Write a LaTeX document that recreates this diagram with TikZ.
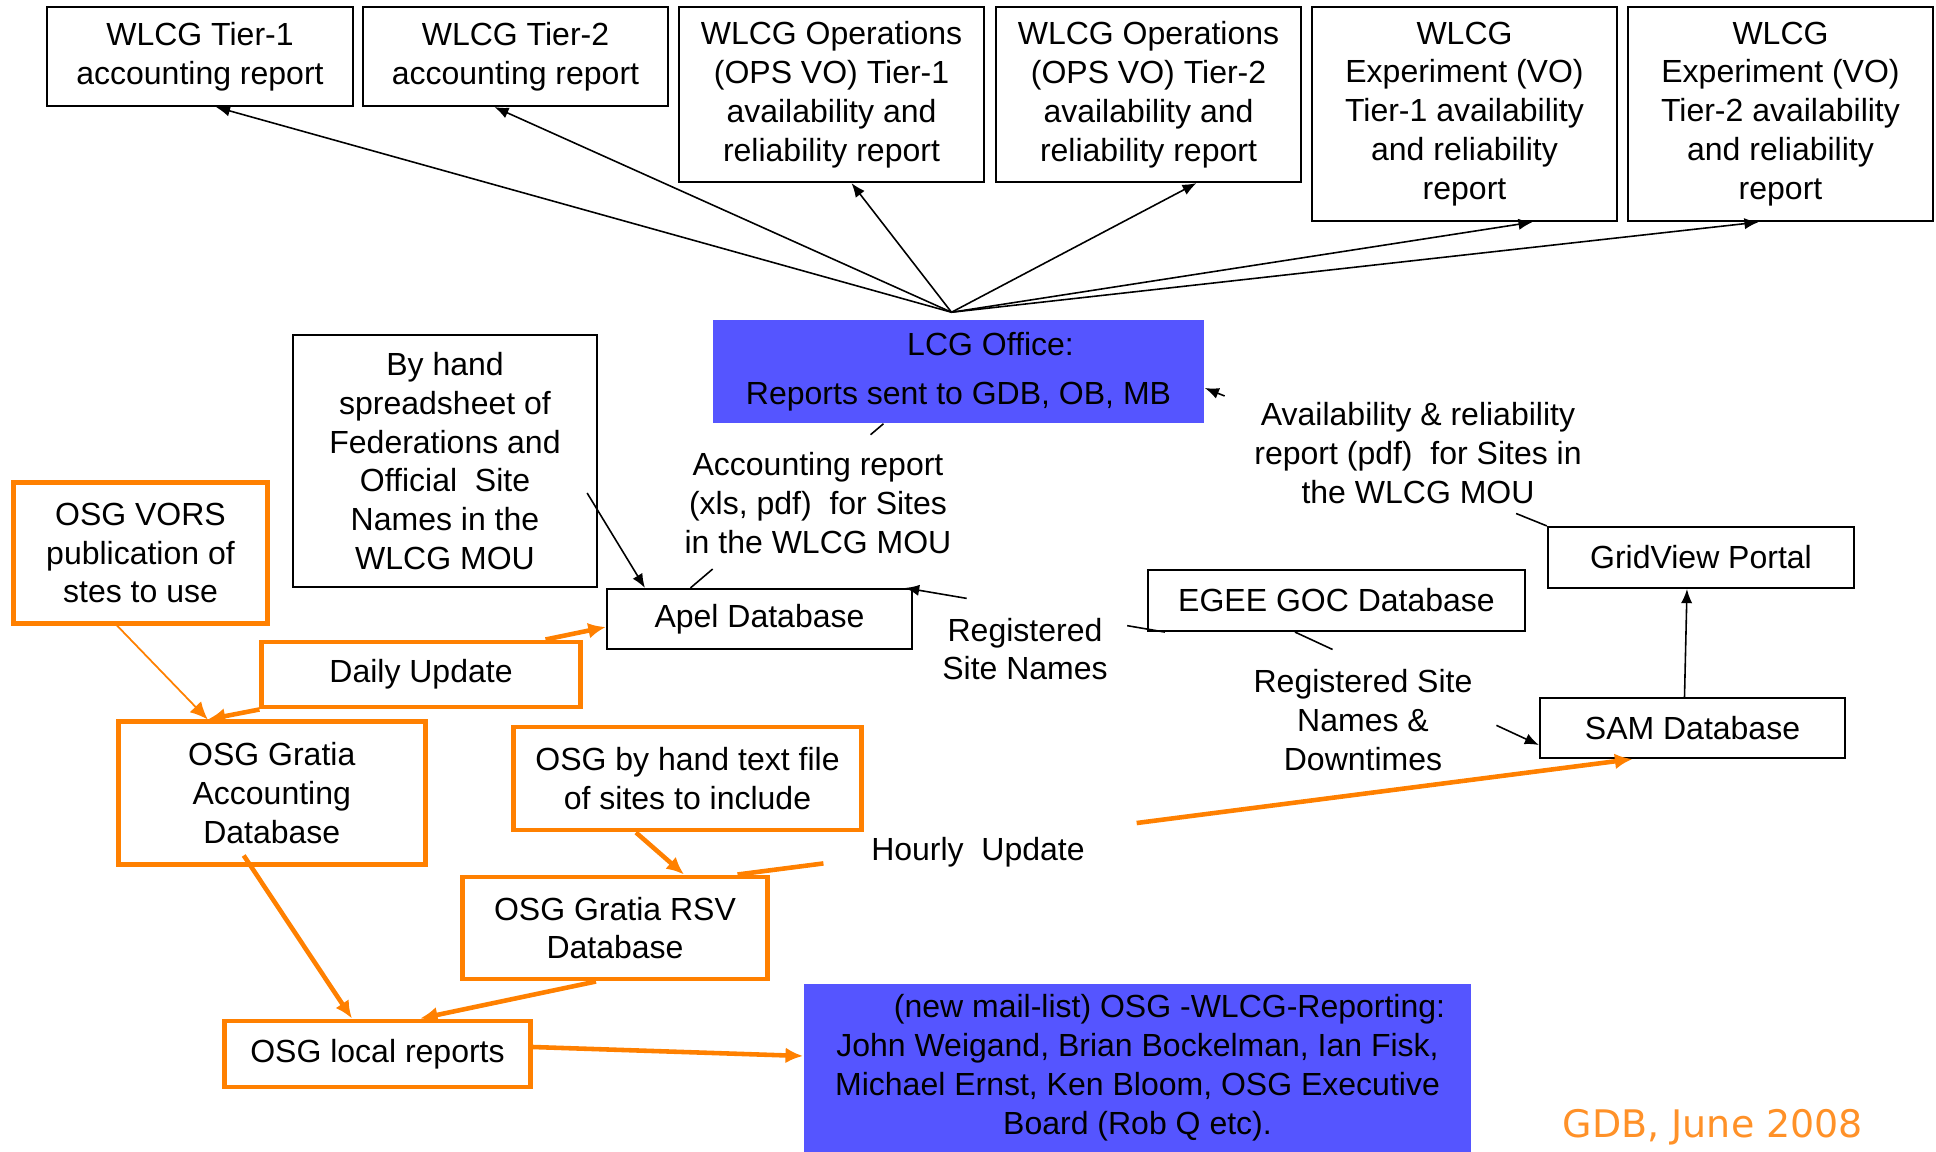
\documentclass[tikz,border=0pt]{standalone}
\usepackage{fontspec}
\setmainfont{Liberation Sans}
\newfontfamily\gdbfont{DejaVu Sans}
\usetikzlibrary{arrows.meta,positioning,calc}
\definecolor{officeblue}{RGB}{85,85,255}
\definecolor{osgorange}{RGB}{255,128,0}
\definecolor{gdborange}{RGB}{255,145,40}

\begin{document}
\begin{tikzpicture}[x=0.01cm,y=-0.01cm,
  every node/.style={font=\fontsize{9.1pt}{11.05pt}\selectfont,align=center,inner sep=0pt},
  wlcgbox/.style={draw,line width=0.6pt},
  osgbox/.style={draw=osgorange,line width=1.4pt},
  bluebox/.style={fill=officeblue},
  link/.style={line width=0.45pt},
  flow/.style={link,-{Latex[length=4pt,width=3.2pt]}},
  osglink/.style={draw=osgorange,line width=1.3pt},
  osgflow/.style={osglink,-{Latex[length=5pt,width=4.5pt]}},
  tag/.style={inner sep=0.08cm}]
\useasboundingbox (0,0) rectangle (1936,1152);

% WLCG reports along the top
\node[wlcgbox,minimum width=3.05cm,minimum height=0.99cm] (tierone) at (200,56.5) {WLCG Tier-1\\accounting report};
\node[wlcgbox,minimum width=3.05cm,minimum height=0.99cm] (tiertwo) at (515.5,56.5) {WLCG Tier-2\\accounting report};
\node[wlcgbox,minimum width=3.05cm,minimum height=1.75cm] (opsone) at (831.5,94.5) {WLCG Operations\\(OPS VO) Tier-1\\availability and\\reliability report};
\node[wlcgbox,minimum width=3.05cm,minimum height=1.75cm] (opstwo) at (1148.5,94.5) {WLCG Operations\\(OPS VO) Tier-2\\availability and\\reliability report};
\node[wlcgbox,minimum width=3.05cm,minimum height=2.14cm] (expone) at (1464.5,114) {WLCG\\Experiment (VO)\\Tier-1 availability\\and reliability\\report};
\node[wlcgbox,minimum width=3.05cm,minimum height=2.14cm] (exptwo) at (1780.5,114) {WLCG\\Experiment (VO)\\Tier-2 availability\\and reliability\\report};

% LCG office and the databases feeding it
\node[bluebox,minimum width=4.91cm,minimum height=1.03cm] (office) at (958.5,371.5) {\hspace*{2em}LCG Office:\\[3pt]Reports sent to GDB, OB, MB};
\node[wlcgbox,minimum width=3.04cm,minimum height=2.52cm] (byhand) at (445,461) {By hand\\spreadsheet of\\Federations and\\Official\ \ Site\\Names in the\\WLCG MOU};
\node[wlcgbox,minimum width=3.05cm,minimum height=0.60cm] (apel) at (759.5,619) {Apel Database};
\node[wlcgbox,minimum width=3.77cm,minimum height=0.61cm] (egee) at (1336.5,600.5) {EGEE GOC Database};
\node[wlcgbox,minimum width=3.06cm,minimum height=0.61cm] (gridview) at (1701,557.5) {GridView Portal};
\node[wlcgbox,minimum width=3.05cm,minimum height=0.60cm] (sam) at (1692.5,728) {SAM Database};

% OSG side
\node[osgbox,minimum width=2.53cm,minimum height=1.40cm] (vors) at (140.5,553) {OSG VORS\\publication of\\stes to use};
\node[osgbox,minimum width=3.18cm,minimum height=0.65cm] (daily) at (421,674.5) {Daily Update};
\node[osgbox,minimum width=3.07cm,minimum height=1.42cm] (gratia) at (271.75,793) {OSG Gratia\\Accounting\\Database};
\node[osgbox,minimum width=3.47cm,minimum height=1.03cm] (handfile) at (687.5,778.5) {OSG by hand text file\\of sites to include};
\node[osgbox,minimum width=3.04cm,minimum height=1.02cm] (rsv) at (615,928) {OSG Gratia RSV\\Database};
\node[osgbox,minimum width=3.05cm,minimum height=0.66cm] (localrep) at (377.5,1054) {OSG local reports};
\node[bluebox,minimum width=6.67cm,minimum height=1.68cm] (maillist) at (1137.5,1068) {\hspace*{2em}(new mail-list) OSG -WLCG-Reporting:\\John Weigand, Brian Bockelman, Ian Fisk,\\Michael Ernst, Ken Bloom, OSG Executive\\Board (Rob Q etc).};

% reports sent out by the office
\coordinate (hub) at ([xshift=-0.07cm,yshift=0.07cm]office.north);
\foreach \rep/\dx in {tierone/0.16,tiertwo/-0.21,opsone/0.2,opstwo/0.48,expone/0.68,exptwo/-0.22}
  \draw[flow] (hub) -- ([xshift=\dx cm]\rep.south);

% black links, broken where a label sits
\coordinate (accfrom) at ([xshift=-0.69cm]apel.north);
\coordinate (accto) at ([xshift=-0.75cm]office.south);
\draw[link] (accfrom) -- ($(accfrom)!0.115!(accto)$) ($(accfrom)!0.933!(accto)$) -- (accto);

\coordinate (avafrom) at (gridview.north west);
\coordinate (avato) at ([yshift=-0.165cm]office.east);
\draw[link] (avafrom) -- ($(avafrom)!0.09!(avato)$);
\draw[flow] ($(avafrom)!0.942!(avato)$) -- (avato);

\coordinate (regfrom) at ([xshift=0.18cm]egee.south west);
\coordinate (regto) at ([xshift=-0.08cm]apel.north east);
\draw[link] (regfrom) -- ($(regfrom)!0.145!(regto)$);
\draw[flow] ($(regfrom)!0.763!(regto)$) -- (regto);

\coordinate (downfrom) at ([xshift=-0.415cm]egee.south);
\coordinate (downto) at ([yshift=-0.17cm]sam.west);
\draw[link] (downfrom) -- ($(downfrom)!0.154!(downto)$);
\draw[flow] ($(downfrom)!0.826!(downto)$) -- (downto);

\draw[flow] ([xshift=-0.11cm,yshift=-0.32cm]byhand.east) -- ([xshift=-1.145cm]apel.north);
\draw[flow] ([xshift=-0.08cm]sam.north) -- ([xshift=-0.14cm]gridview.south);

% orange links
\draw[osgflow,line width=0.5pt] ([xshift=-0.235cm]vors.south) -- ([xshift=-0.64cm]gratia.north);
\draw[osgflow] (daily.south west) -- ([xshift=-0.64cm]gratia.north);
\draw[osgflow] ([xshift=-0.37cm]daily.north east) -- ([yshift=-0.08cm]apel.west);
\draw[osgflow] ([xshift=-0.515cm]handfile.south) -- ([xshift=0.69cm]rsv.north);
\coordinate (hourfrom) at ([xshift=-0.32cm]rsv.north east);
\coordinate (hourto) at ([xshift=-0.6cm]sam.south);
\draw[osglink] (hourfrom) -- ($(hourfrom)!0.096!(hourto)$);
\draw[osgflow] ($(hourfrom)!0.446!(hourto)$) -- (hourto);
\draw[osgflow] ([xshift=-0.28cm,yshift=0.11cm]gratia.south) -- ([xshift=-0.255cm]localrep.north);
\draw[osgflow] ([xshift=-0.19cm]rsv.south) -- ([xshift=0.425cm]localrep.north);
\draw[osgflow] ([yshift=0.07cm]localrep.east) -- ([yshift=0.12cm]maillist.west);

% labels on the links
\node[tag] (acclabel) at (818,503) {Accounting report\\(xls, pdf)\ \ for Sites\\in the WLCG MOU};
\node[tag] (avalabel) at (1418,453) {Availability \& reliability\\report (pdf)\ \ for Sites in\\the WLCG MOU};
\node[tag] (reglabel) at (1025,649) {Registered\\Site Names};
\node[tag] (downlabel) at (1363,720) {Registered Site\\Names \&\\Downtimes};
\node[tag] (hourlabel) at (978,852) {Hourly\ \ Update};

\node[text=gdborange,font=\gdbfont\fontsize{10.8pt}{13pt}\selectfont] (gdb) at (1713,1127) {GDB, June 2008};
\end{tikzpicture}
\end{document}
